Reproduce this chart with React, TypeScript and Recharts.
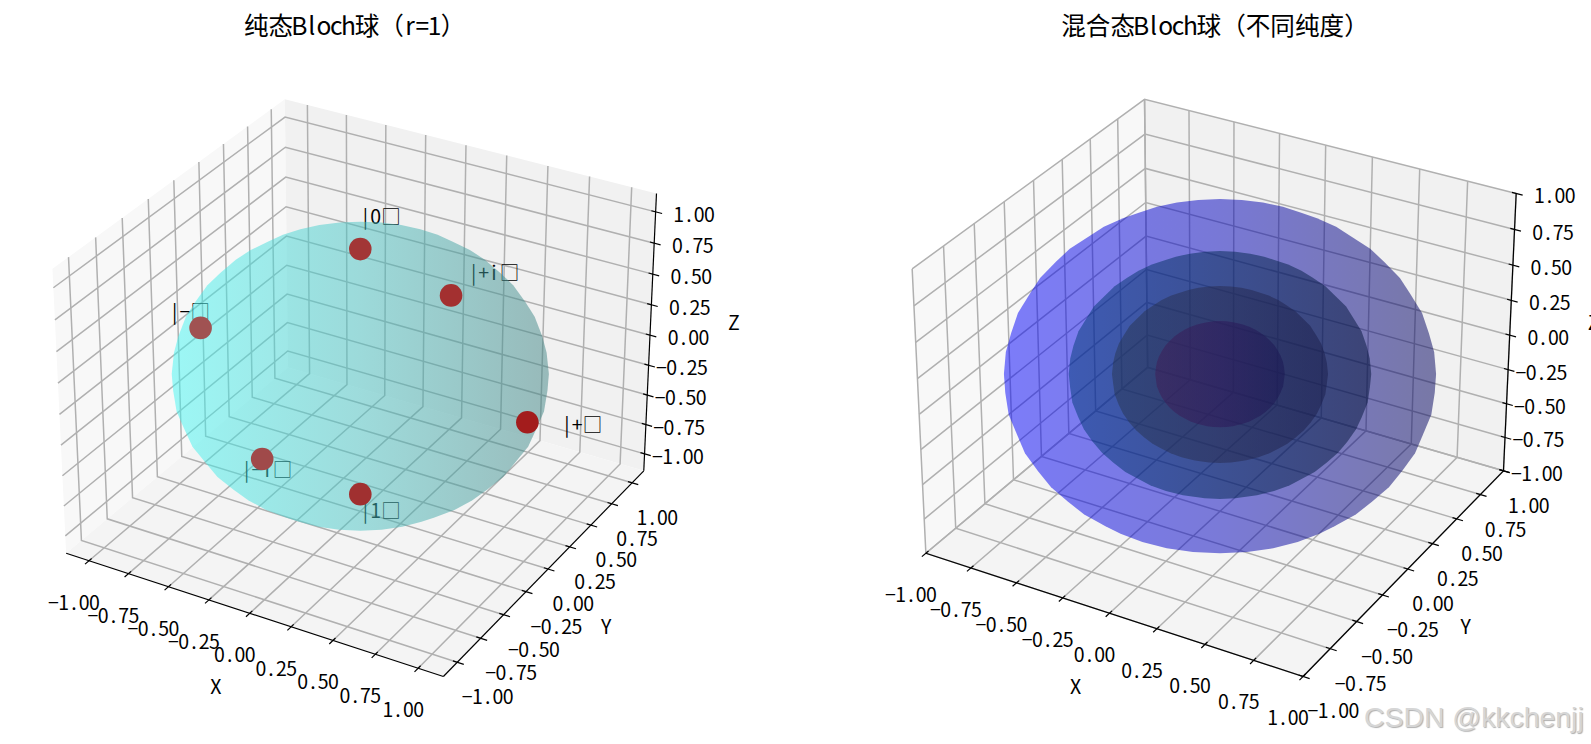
import React from "react";
import { ScatterChart, Scatter, XAxis, YAxis } from "recharts";

// values
const tickValues = [-1, -0.75, -0.5, -0.25, 0, 0.25, 0.5, 0.75, 1];
const tickLabels = ["−1.00", "−0.75", "−0.50", "−0.25", "0.00", "0.25", "0.50", "0.75", "1.00"];

const stateNames = ["|0□", "|1□", "|+□", "|−□", "|+i□", "|−i□"];
const stateX = [0, 0, 1, -1, 0, 0];
const stateY = [0, 0, 0, 0, 1, -1];
const stateZ = [1, -1, 0, 0, 0, 0];
const stateLabelFactor = 1.2;

const pureRadii = [1];
const mixedRadii = [1, 0.7, 0.5, 0.3];

const pureLimit = 1.1458;
const mixedLimit = 1;

// sphere mesh angles in degrees
const pureLon = [0, 10, 20, 30, 40, 50, 60, 70, 80, 90, 100, 110, 120, 130, 140, 150, 160, 170, 180, 190, 200, 210, 220, 230, 240, 250, 260, 270, 280, 290, 300, 310, 320, 330, 340, 350];
const pureLat = [-90, -80, -70, -60, -50, -40, -30, -20, -10, 0, 10, 20, 30, 40, 50, 60, 70, 80, 90];
const mixedLon = [0, 10, 20, 30, 40, 50, 60, 70, 80, 90, 100, 110, 120, 130, 140, 150, 160, 170, 180, 190, 200, 210, 220, 230, 240, 250, 260, 270, 280, 290, 300, 310, 320, 330, 340, 350];
const mixedLat = [-90, -81, -72, -63, -54, -45, -36, -27, -18, -9, 0, 9, 18, 27, 36, 45, 54, 63, 72, 81, 90];

// styles
const FONT = '"Noto Sans CJK SC"';
const TICK_EM = 19.5;
const TICK_CELL = 10.25;
const TITLE_EM = 24.6;
const TITLE_CELL = 12.3;
const PX = 3630;
const CENTER_Y = 374;
const GRID = "#b0b0b0";
const stateFills = ["#a23636", "#a03030", "#a31c1c", "#a05252", "#a33030", "#a04a4a"];
const pureStops = [["#41f7f3", "#48c3c3", "#3f8383"]];
const mixedStops = [
  ["#0000fb", "#0000bb", "#00005b"],
  ["#003a78", "#002850", "#001038"],
  ["#273650", "#272a4e", "#181b48"],
  ["#401a54", "#2e1558", "#181550"],
];
const pureOpacity = [0.5];
const mixedOpacity = [0.5, 0.5, 0.5, 0.5];

const project = (x: number, y: number, z: number, lim: number) => {
  const qx = (x / lim) * 0.59524;
  const qy = (y / lim) * 0.59524;
  const qz = (z / lim) * 0.44643;
  const a = 0.8660254 * qx + 0.5 * qy;
  const b = -0.25 * qx + 0.4330127 * qy + 0.8660254 * qz;
  const depth = 10 - (0.4330127 * qx - 0.75 * qy + 0.5 * qz);
  return { u: a / depth, v: b / depth };
};

const hull = (pts: { u: number; v: number }[]) => {
  const s = [...pts].sort((p, q) => p.u - q.u || p.v - q.v);
  const cross = (o: any, p: any, q: any) => (p.u - o.u) * (q.v - o.v) - (p.v - o.v) * (q.u - o.u);
  const half = (list: any[]) => {
    const out: any[] = [];
    for (const p of list) {
      while (out.length > 1 && cross(out[out.length - 2], out[out.length - 1], p) <= 0) out.pop();
      out.push(p);
    }
    out.pop();
    return out;
  };
  return [...half(s), ...half([...s].reverse())];
};

const sphereOutline = (r: number, lons: number[], lats: number[], lim: number) => {
  const pts: { u: number; v: number }[] = [];
  for (const lat of lats) {
    for (const lon of lons) {
      const a = (lat * Math.PI) / 180;
      const o = (lon * Math.PI) / 180;
      pts.push(project(r * Math.cos(a) * Math.cos(o), r * Math.cos(a) * Math.sin(o), r * Math.sin(a), lim));
    }
  }
  return hull(pts);
};

// SimHei style text: half width latin, full width CJK
const CellText = ({ x, y, text, em, cell, anchor = "start", fill = "#000" }: any) => {
  const chars = Array.from(text as string);
  const widths = chars.map((c) => (c.charCodeAt(0) >= 0x2500 ? cell * 2 : cell));
  const total = widths.reduce((s, w) => s + w, 0);
  let left = anchor === "middle" ? x - total / 2 : anchor === "end" ? x - total : x;
  const xs = widths.map((w) => {
    const c = left + w / 2;
    left += w;
    return c.toFixed(2);
  });
  return (
    <text x={xs.join(" ")} y={y} textAnchor="middle" fontSize={em} fontFamily={FONT} fill={fill}>
      {text}
    </text>
  );
};

const noDot = () => <g />;

const polygonLine = (fill: string) => (p: any) => (
  <polygon points={p.points.map((q: any) => `${q.x},${q.y}`).join(" ")} fill={fill} stroke="none" />
);

const labelShape = (dx: number, dy: number, anchor: string) => (p: any) => (
  <CellText x={p.cx + dx} y={p.cy + dy} text={p.payload.text} em={TICK_EM} cell={TICK_CELL} anchor={anchor} />
);

const Panel = ({ left, width, centerX, lim, radii, lons, lats, stops, opacities, showStates, id }: any) => {
  const P = (x: number, y: number, z: number) => project(x, y, z, lim);
  const L = lim;
  const tickIn = 0.022 * L;
  const tickOut = 0.033 * L;

  const panes = [
    { fill: "#f8f8f8", pts: [P(-L, -L, -L), P(-L, L, -L), P(-L, L, L), P(-L, -L, L)] },
    { fill: "#f1f1f1", pts: [P(-L, L, -L), P(L, L, -L), P(L, L, L), P(-L, L, L)] },
    { fill: "#f4f4f4", pts: [P(-L, -L, -L), P(L, -L, -L), P(L, L, -L), P(-L, L, -L)] },
  ];
  const grids = tickValues.flatMap((t) => [
    [P(t, -L, -L), P(t, L, -L), P(t, L, L)],
    [P(L, t, -L), P(-L, t, -L), P(-L, t, L)],
    [P(L, L, t), P(-L, L, t), P(-L, -L, t)],
  ]);
  const axes = [
    [P(-L, -L, -L), P(L, -L, -L)],
    [P(L, -L, -L), P(L, L, -L)],
    [P(L, L, -L), P(L, L, L)],
  ];
  const ticks = tickValues.flatMap((t) => [
    [P(t, -L - tickOut, -L), P(t, -L + tickIn, -L)],
    [P(L - tickIn, t, -L), P(L + tickOut, t, -L)],
    [P(L - tickIn, L, t), P(L + tickOut, L, t)],
  ]);
  const labelled = (fn: (t: number) => { u: number; v: number }) =>
    tickValues.map((t, i) => ({ ...fn(t), text: tickLabels[i] }));

  return (
    <div style={{ position: "absolute", left, top: 0 }}>
      <ScatterChart width={width} height={744} margin={{ top: 0, right: 0, bottom: 0, left: 0 }}>
        <XAxis
          type="number"
          dataKey="u"
          hide
          allowDataOverflow
          domain={[(left - centerX) / PX, (left + width - centerX) / PX]}
        />
        <YAxis type="number" dataKey="v" hide allowDataOverflow domain={[(CENTER_Y - 744) / PX, CENTER_Y / PX]} />
        {panes.map((p, i) => (
          <Scatter key={`pane${i}`} data={p.pts} shape={noDot} line={polygonLine(p.fill)} isAnimationActive={false} />
        ))}
        {grids.map((g, i) => (
          <Scatter
            key={`grid${i}`}
            data={g}
            shape={noDot}
            line={{ stroke: GRID, strokeWidth: 1.5 }}
            isAnimationActive={false}
          />
        ))}
        {[...axes, ...ticks].map((a, i) => (
          <Scatter
            key={`axis${i}`}
            data={a}
            shape={noDot}
            line={{ stroke: "#000", strokeWidth: 1.2 }}
            isAnimationActive={false}
          />
        ))}
        <Scatter data={labelled((t) => P(t, -L, -L))} shape={labelShape(-15, 49, "middle")} isAnimationActive={false} />
        <Scatter data={labelled((t) => P(L, t, -L))} shape={labelShape(4.8, 42, "start")} isAnimationActive={false} />
        <Scatter data={labelled((t) => P(L, L, t))} shape={labelShape(59, 10, "end")} isAnimationActive={false} />
        <Scatter data={[{ ...P(0, -L, -L), text: "X" }]} shape={labelShape(-34, 81, "middle")} isAnimationActive={false} />
        <Scatter data={[{ ...P(L, 0, -L), text: "Y" }]} shape={labelShape(58, 64.5, "middle")} isAnimationActive={false} />
        <Scatter data={[{ ...P(L, L, 0), text: "Z" }]} shape={labelShape(84, -5, "middle")} isAnimationActive={false} />
        {showStates && (
          <Scatter
            data={stateNames.map((text, i) => ({
              ...P(stateX[i] * stateLabelFactor, stateY[i] * stateLabelFactor, stateZ[i] * stateLabelFactor),
              text,
            }))}
            shape={labelShape(0, 0, "start")}
            isAnimationActive={false}
          />
        )}
        {radii.map((r: number, i: number) => (
          <Scatter
            key={`sphere${i}`}
            data={sphereOutline(r, lons, lats, lim)}
            shape={noDot}
            line={(p: any) => (
              <g>
                <defs>
                  <linearGradient id={`${id}${i}`} x1="0" y1="0" x2="1" y2="0">
                    <stop offset="0" stopColor={stops[i][0]} />
                    <stop offset="0.5" stopColor={stops[i][1]} />
                    <stop offset="1" stopColor={stops[i][2]} />
                  </linearGradient>
                </defs>
                <polygon
                  points={p.points.map((q: any) => `${q.x},${q.y}`).join(" ")}
                  fill={`url(#${id}${i})`}
                  fillOpacity={opacities[i]}
                  stroke="none"
                />
              </g>
            )}
            isAnimationActive={false}
          />
        ))}
        {showStates && (
          <Scatter
            data={stateNames.map((_, i) => ({ ...P(stateX[i], stateY[i], stateZ[i]), idx: i }))}
            shape={(p: any) => <circle cx={p.cx} cy={p.cy} r={11.3} fill={stateFills[p.payload.idx]} />}
            isAnimationActive={false}
          />
        )}
      </ScatterChart>
    </div>
  );
};

export default function App() {
  return (
    <div style={{ position: "absolute", left: 0, top: 0, width: 1591, height: 744, overflow: "hidden", background: "#fff" }}>
      <Panel
        id="pure"
        left={0}
        width={795}
        centerX={360.3}
        lim={pureLimit}
        radii={pureRadii}
        lons={pureLon}
        lats={pureLat}
        stops={pureStops}
        opacities={pureOpacity}
        showStates
      />
      <Panel
        id="mixed"
        left={795}
        width={830}
        centerX={1220}
        lim={mixedLimit}
        radii={mixedRadii}
        lons={mixedLon}
        lats={mixedLat}
        stops={mixedStops}
        opacities={mixedOpacity}
        showStates={false}
      />
      <svg width={1591} height={60} style={{ position: "absolute", left: 0, top: 0 }}>
        <CellText x={354.7} y={35} text="纯态Bloch球（r=1）" em={TITLE_EM} cell={TITLE_CELL} anchor="middle" />
        <CellText x={1215} y={35} text="混合态Bloch球（不同纯度）" em={TITLE_EM} cell={TITLE_CELL} anchor="middle" />
      </svg>
      <div
        style={{
          position: "absolute",
          left: 1364,
          top: 700,
          fontFamily: '"Liberation Sans"',
          fontSize: 28.4,
          lineHeight: "34px",
          color: "#d6d6d6",
          textShadow: "1px 1px 1px #b0b0b0",
          whiteSpace: "nowrap",
        }}
      >
        CSDN @kkchenjj
      </div>
    </div>
  );
}
